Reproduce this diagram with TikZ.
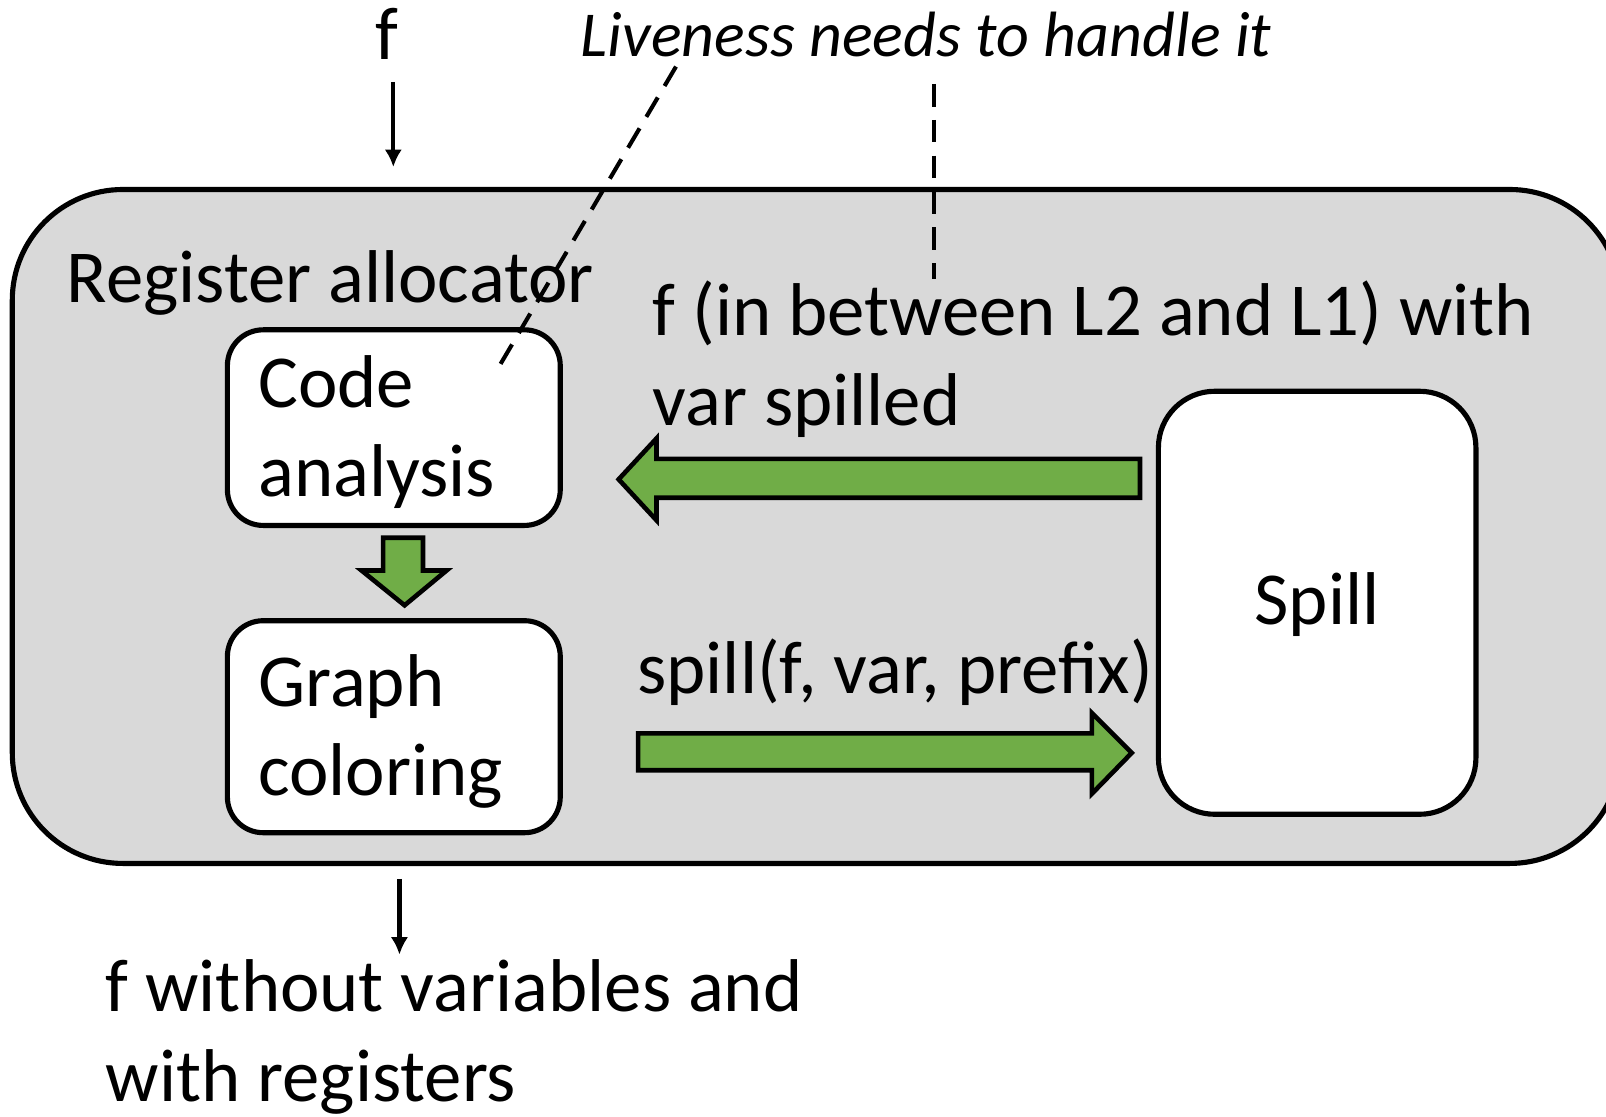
\documentclass[tikz,border=0pt]{standalone}
\usepackage{fontspec}
\setmainfont{Carlito}
\usetikzlibrary{arrows.meta}
\tikzset{>={Latex[length=17pt,width=17pt]}}
\definecolor{gr1}{gray}{.85}
\definecolor{leaf}{HTML}{70AD47}
\tikzset{blk/.style={draw, line width=5pt, fill=white}}
\tikzset{fat/.style={draw, line width=4.5pt, fill=leaf, line join=miter}}
\tikzset{lbl/.style={inner sep=0pt, anchor=base west, align=left, font=\fontsize{73}{87}\selectfont}}
\tikzset{hint/.style={line width=4pt, dash pattern=on 22pt off 13pt}}

\begin{document}
\begin{tikzpicture}[x=1pt, y=-1pt]
    \useasboundingbox (0,0) rectangle (1568,1090);
    % the allocator
    \draw[line width=5pt, fill=gr1, rounded corners=108pt](12,185)rectangle(1582,843);
    \node[lbl](ra) at (65,295){Register allocator};
    \node[blk, rounded corners=35pt, minimum width=325pt, minimum height=191pt](code) at (384.5,417.5){};
    \node[lbl](codet) at (252,485){Code\\analysis};
    \node[blk, rounded corners=35pt, minimum width=325pt, minimum height=207pt](graph) at (384.5,709.5){};
    \node[lbl](grapht) at (252,777){Graph\\coloring};
    \node[blk, rounded corners=55pt, minimum width=310pt, minimum height=413pt, text height=55pt, font=\fontsize{73}{87}\selectfont](spill) at (1286,588.5){Spill};
    % fat arrows
    \draw[fat](374,525)--(413,525)--(413,557)--(436,557)--(395,591)--(353,557)--(374,557)--cycle;
    \draw[fat](1113,448)--(641,448)--(641,428)--(604,468)--(641,508)--(641,486)--(1113,486)--cycle;
    \draw[fat](623,716)--(1066,716)--(1066,696)--(1105,735)--(1066,775)--(1066,752)--(623,752)--cycle;
    \node[lbl](back) at (637,415){f (in between L2 and L1) with\\var spilled};
    \node[lbl](call) at (622,677){spill(f, var, prefix)};
    % in and out
    \node[lbl](fin) at (366,58){f};
    \coordinate(a1) at (384,80);
    \coordinate(a2) at (384,163);
    \draw[line width=4pt, ->](a1)--(a2);
    \coordinate(b1) at (390,858);
    \coordinate(b2) at (390,932);
    \draw[line width=4pt, ->](b1)--(b2);
    \node[lbl](fout) at (103,1075){f without variables and\\with registers};
    % liveness remark
    \node[lbl, font=\fontsize{62.5}{75}\selectfont\itshape](live) at (567,55){Liveness needs to handle it};
    \coordinate(l1) at (660,65);
    \coordinate(l2) at (483,365);
    \coordinate(l3) at (912,82);
    \coordinate(l4) at (912,272);
    \draw[hint](l1)--(l2);
    \draw[hint](l3)--(l4);
\end{tikzpicture}
\end{document}
